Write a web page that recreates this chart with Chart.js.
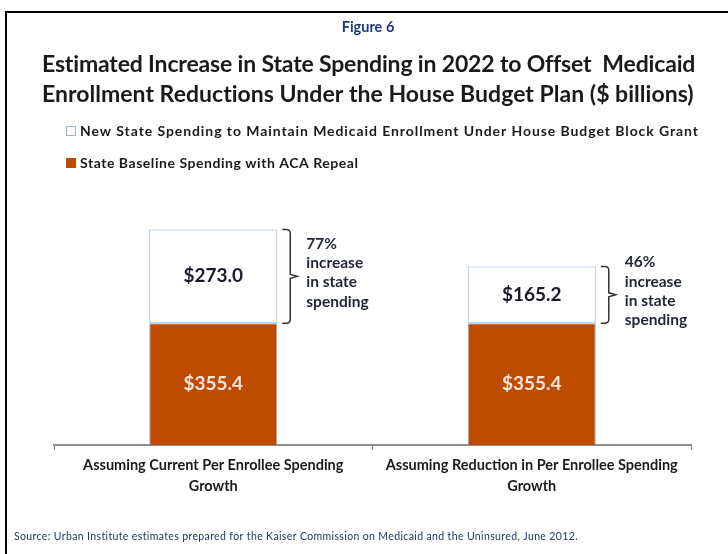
<!DOCTYPE html>
<html>
<head>
<meta charset="utf-8">
<script src="https://cdn.jsdelivr.net/npm/chart.js@4.4.1/dist/chart.umd.min.js"></script>
<style>
html, body { margin: 0; padding: 0; background: #fff; }
canvas { display: block; }
</style>
</head>
<body>
<canvas id="myChart" width="728" height="554"></canvas>
<script>
const categories = [
    ["Assuming Current Per Enrollee Spending", "Growth"],
    ["Assuming Reduction in Per Enrollee Spending", "Growth"]
];
const baselineSpending = [355.4, 355.4];
const newSpending = [273.0, 165.2];
const increaseLabels = ["77%", "46%"];
const seriesNames = [
    "New State Spending to Maintain Medicaid Enrollment Under House Budget Block Grant",
    "State Baseline Spending with ACA Repeal"
];
const titleLines = [
    "Estimated Increase in State Spending in 2022 to Offset  Medicaid",
    "Enrollment Reductions Under the House Budget Plan ($ billions)"
];
const sourceText = "Source: Urban Institute estimates prepared for the Kaiser Commission on Medicaid and the Uninsured, June 2012.";

const orange = "#BE4B00";
const barEdge = "#8EB4E3";

// draw text stretched to a given width (the original uses wider spacing than our fonts)
function fitText(ctx, text, x, y, width){
    ctx.letterSpacing = "0px";
    let w = ctx.measureText(text).width;
    let sp = (width - w) / (text.length - 1);
    ctx.letterSpacing = sp + "px";
    ctx.textAlign = "left";
    ctx.fillText(text, x, y);
    ctx.letterSpacing = "0px";
}

const decor = {
    id: "decor",
    beforeDraw(chart){
        let ctx = chart.ctx;
        ctx.save();
        ctx.fillStyle = "#fff";
        ctx.fillRect(0, 0, chart.width, chart.height);
        // frame
        ctx.strokeStyle = "#000";
        ctx.lineWidth = 2;
        ctx.beginPath();
        ctx.moveTo(728, 12);
        ctx.lineTo(6, 12);
        ctx.lineTo(6, 554);
        ctx.stroke();
        ctx.restore();
    },
    afterDraw(chart){
        let ctx = chart.ctx;
        ctx.save();
        ctx.textBaseline = "middle";

        ctx.fillStyle = "#1F3A7A";
        ctx.font = "bold 14.5px Lato";
        ctx.textAlign = "center";
        ctx.fillText("Figure 6", 368, 27);

        ctx.fillStyle = "#1a1a1a";
        ctx.font = "bold 23px Lato";
        fitText(ctx, titleLines[0], 42, 65, 653);
        fitText(ctx, titleLines[1], 42, 95, 652);

        // legend
        ctx.fillStyle = "#fff";
        ctx.fillRect(66, 126, 10, 10);
        ctx.strokeStyle = barEdge;
        ctx.lineWidth = 1;
        ctx.strokeRect(66.5, 126.5, 9, 9);
        ctx.fillStyle = orange;
        ctx.fillRect(66, 158, 10, 10);
        ctx.fillStyle = "#1a1a1a";
        ctx.font = "bold 14px Lato";
        fitText(ctx, seriesNames[0], 80, 131, 618);
        fitText(ctx, seriesNames[1], 80, 163, 278);

        // value labels inside bars
        let base = chart.getDatasetMeta(0).data;
        let top = chart.getDatasetMeta(1).data;
        ctx.font = "bold 19px Lato";
        ctx.textAlign = "center";
        for(let i = 0; i < base.length; i++){
            ctx.fillStyle = "#F6E4DC";
            ctx.fillText("$" + baselineSpending[i].toFixed(1), base[i].x, (base[i].y + base[i].base) / 2);
            ctx.fillStyle = "#1a1a2a";
            ctx.fillText("$" + newSpending[i].toFixed(1), top[i].x, (top[i].y + top[i].base) / 2);
        }

        // brackets and increase notes
        for(let i = 0; i < top.length; i++){
            let b = top[i];
            let right = b.x + b.width / 2;
            let y0 = b.y, y1 = b.base, mid = (y0 + y1) / 2;
            let x0 = right + 5, xv = right + 13, xt = right + 20, r = 4;
            ctx.strokeStyle = "#333";
            ctx.lineWidth = 1.5;
            ctx.beginPath();
            ctx.moveTo(x0, y0);
            ctx.lineTo(xv - r, y0);
            ctx.quadraticCurveTo(xv, y0, xv, y0 + r);
            ctx.lineTo(xv, mid - 2);
            ctx.lineTo(xt, mid);
            ctx.lineTo(xv, mid + 2);
            ctx.lineTo(xv, y1 - r);
            ctx.quadraticCurveTo(xv, y1, xv - r, y1);
            ctx.lineTo(x0, y1);
            ctx.stroke();

            let lines = [increaseLabels[i], "increase", "in state", "spending"];
            ctx.fillStyle = "#1f2533";
            ctx.font = "bold 15.5px Lato";
            ctx.textAlign = "left";
            for(let k = 0; k < lines.length; k++){
                ctx.fillText(lines[k], right + 29, mid - 3.5 + (k - 1.5) * 19.3);
            }
        }

        ctx.fillStyle = "#1F3864";
        ctx.font = "10.5px Lato";
        fitText(ctx, sourceText, 14, 537, 564);
        ctx.restore();
    }
};

let ctx = document.getElementById("myChart");
let chart = new Chart(ctx, {
    type: "bar",
    data: {
        labels: categories,
        datasets: [{
            label: seriesNames[1],
            data: baselineSpending,
            backgroundColor: orange,
            borderColor: barEdge,
            borderWidth: 1,
            borderSkipped: "start"
        },
        {
            label: seriesNames[0],
            data: newSpending,
            backgroundColor: "#FFFFFF",
            borderColor: barEdge,
            borderWidth: 1,
            borderSkipped: false
        }]
    },
    options: {
        responsive: false,
        animation: false,
        devicePixelRatio: 1,
        layout: { padding: { top: 205, left: 54, right: 37, bottom: 0 } },
        datasets: { bar: { categoryPercentage: 1, barPercentage: 0.402 } },
        plugins: {
            legend: { display: false },
            title: { display: false },
            tooltip: { enabled: false }
        },
        scales: {
            x: {
                stacked: true,
                grid: { display: true, drawOnChartArea: false, drawTicks: true, tickLength: 5, color: "#8c8c8c", offset: true },
                border: { display: true, color: "#8c8c8c", width: 2 },
                ticks: {
                    font: { family: "Lato", weight: "bold", size: 14.5, lineHeight: 1.45 },
                    color: "#1a1a1a",
                    padding: 5,
                    maxRotation: 0,
                    autoSkip: false
                },
                afterFit: function(scale){ scale.height = 109; }
            },
            y: { stacked: true, display: false, min: 0, max: 700 }
        }
    },
    plugins: [decor]
});
</script>
</body>
</html>
